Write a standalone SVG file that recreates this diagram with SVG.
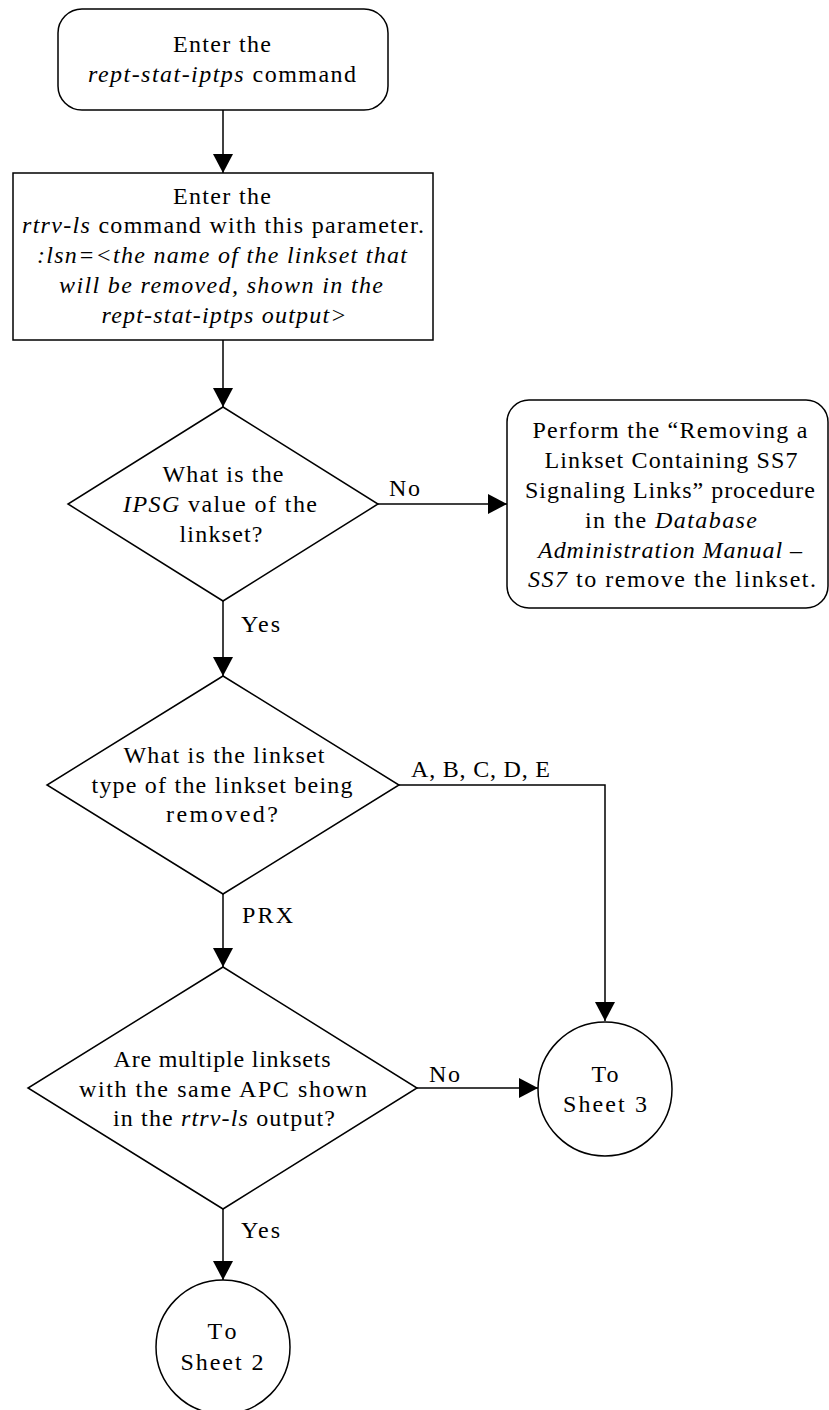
<svg xmlns="http://www.w3.org/2000/svg" width="829" height="1410" viewBox="0 0 829 1410">
<style>
.s{fill:#fff;stroke:#000;stroke-width:1.5}
.c{fill:none;stroke:#000;stroke-width:1.5}
text{font-family:"Liberation Serif","Times New Roman",serif;font-size:24px;fill:#000}
.m{text-anchor:middle}
.i{font-style:italic}
</style>
<defs>
<marker id="ah" markerWidth="20" markerHeight="20" viewBox="0 0 20 20" refX="19" refY="10" orient="auto" markerUnits="userSpaceOnUse">
<path d="M0,0 L19,10 L0,20 Z" fill="#000"/>
</marker>
</defs>
<rect width="829" height="1410" fill="#fff"/>
<g id="connectors">
<line class="c" x1="223" y1="110" x2="223" y2="173" marker-end="url(#ah)"/>
<line class="c" x1="223" y1="340" x2="223" y2="407" marker-end="url(#ah)"/>
<line class="c" x1="378" y1="504" x2="507" y2="504" marker-end="url(#ah)"/>
<line class="c" x1="223" y1="601" x2="223" y2="676" marker-end="url(#ah)"/>
<polyline class="c" points="399,785 605,785 605,1021" marker-end="url(#ah)"/>
<line class="c" x1="223" y1="894" x2="223" y2="967" marker-end="url(#ah)"/>
<line class="c" x1="417" y1="1088" x2="538" y2="1088" marker-end="url(#ah)"/>
<line class="c" x1="223" y1="1209" x2="223" y2="1280" marker-end="url(#ah)"/>
<text x="389" y="496" textLength="31">No</text>
<text x="241" y="632" textLength="39">Yes</text>
<text x="411" y="777" textLength="139">A, B, C, D, E</text>
<text x="242" y="923" textLength="51">PRX</text>
<text x="429" y="1082" textLength="31">No</text>
<text x="241" y="1238" textLength="39">Yes</text>
</g>
<g id="start">
<rect class="s" x="58" y="9" width="330" height="101" rx="24" ry="24"/>
<text class="m" x="222" y="52" textLength="98">Enter the</text>
<text class="m" x="222" y="82" textLength="268"><tspan class="i">rept-stat-iptps</tspan> command</text>
</g>
<g id="rtrv-ls">
<rect class="s" x="13" y="173" width="420" height="167"/>
<text class="m" x="222" y="204" textLength="98">Enter the</text>
<text class="m" x="223" y="233" textLength="402"><tspan class="i">rtrv-ls</tspan> command with this parameter.</text>
<text class="m i" x="222" y="263" textLength="370">:lsn=&lt;the name of the linkset that</text>
<text class="m i" x="221" y="293" textLength="324">will be removed, shown in the</text>
<text class="m i" x="224" y="323" textLength="245">rept-stat-iptps output&gt;</text>
</g>
<g id="ipsg">
<polygon class="s" points="223,407 378,504 223,601 68,504"/>
<text class="m" x="223" y="482" textLength="121">What is the</text>
<text class="m" x="220" y="512" textLength="194"><tspan class="i">IPSG</tspan> value of the</text>
<text class="m" x="221" y="542" textLength="83">linkset?</text>
</g>
<g id="ss7proc">
<rect class="s" x="507" y="400" width="321" height="208" rx="22" ry="22"/>
<text class="m" x="670" y="438" textLength="275">Perform the “Removing a</text>
<text class="m" x="671" y="468" textLength="253">Linkset Containing SS7</text>
<text class="m" x="670" y="498" textLength="290">Signaling Links” procedure</text>
<text class="m" x="671" y="528" textLength="172">in the <tspan class="i">Database</tspan></text>
<text class="m i" x="670" y="558" textLength="264">Administration Manual –</text>
<text class="m" x="672" y="587" textLength="288"><tspan class="i">SS7</tspan> to remove the linkset.</text>
</g>
<g id="lstype">
<polygon class="s" points="223,676 399,785 223,894 47,785"/>
<text class="m" x="224" y="763" textLength="201">What is the linkset</text>
<text class="m" x="222" y="793" textLength="261">type of the linkset being</text>
<text class="m" x="222" y="822" textLength="112">removed?</text>
</g>
<g id="multiple">
<polygon class="s" points="223,967 417,1088 223,1209 28,1088"/>
<text class="m" x="222" y="1067" textLength="217">Are multiple linksets</text>
<text class="m" x="223" y="1097" textLength="288">with the same APC shown</text>
<text class="m" x="224" y="1126" textLength="222">in the <tspan class="i">rtrv-ls</tspan> output?</text>
</g>
<g id="sheet3">
<circle class="s" cx="605" cy="1089" r="67"/>
<text class="m" x="605" y="1082" textLength="27">To</text>
<text class="m" x="605" y="1112" textLength="84">Sheet 3</text>
</g>
<g id="sheet2">
<circle class="s" cx="223" cy="1347" r="67"/>
<text class="m" x="222" y="1339" textLength="29">To</text>
<text class="m" x="222" y="1370" textLength="83">Sheet 2</text>
</g>
</svg>
